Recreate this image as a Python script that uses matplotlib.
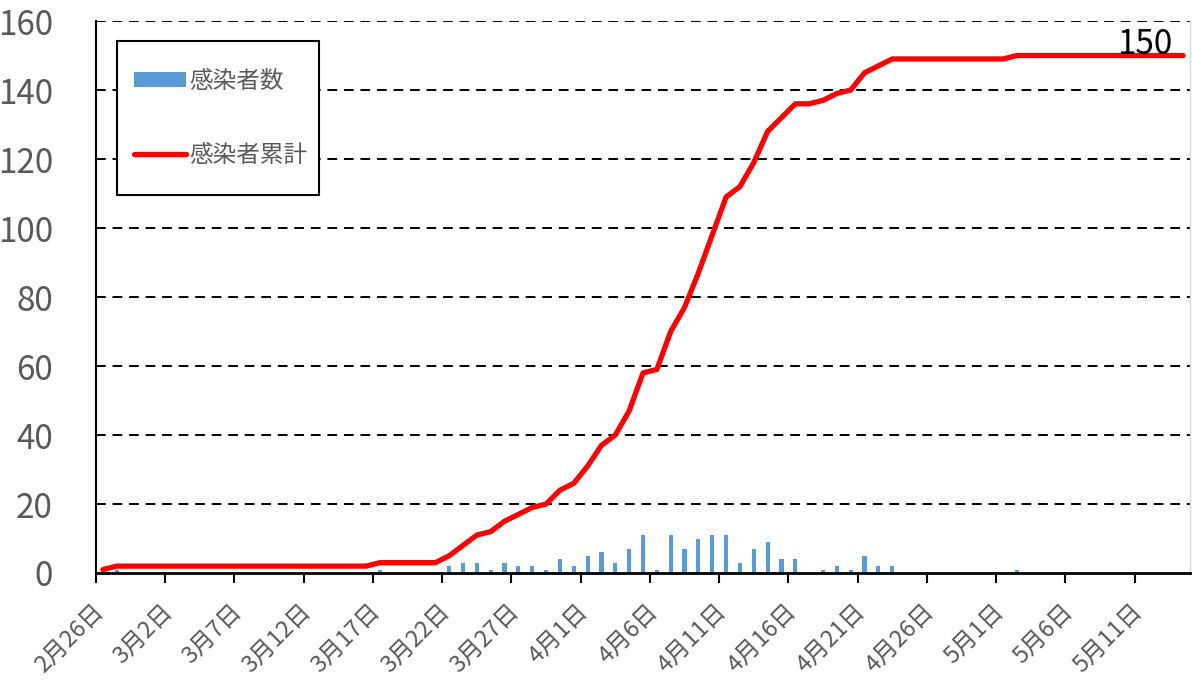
import numpy as np
import matplotlib.pyplot as plt
import matplotlib.transforms as mtransforms
from matplotlib.lines import Line2D
from matplotlib.patches import Patch, Rectangle
import datetime as dt

plt.rcParams['font.family'] = ['Noto Sans CJK JP', 'DejaVu Sans']

# Data (2020-02-26 .. 2020-05-14, one value per day)
start = dt.date(2020, 2, 26)
n_days = 79
daily = [1, 1, 0, 0, 0, 0, 0, 0, 0, 0,
         0, 0, 0, 0, 0, 0, 0, 0, 0, 0,
         1, 0, 0, 0, 0, 2, 3, 3, 1, 3,
         2, 2, 1, 4, 2, 5, 6, 3, 7, 11,
         1, 11, 7, 10, 11, 11, 3, 7, 9, 4,
         4, 0, 1, 2, 1, 5, 2, 2, 0, 0,
         0, 0, 0, 0, 0, 0, 1, 0, 0, 0,
         0, 0, 0, 0, 0, 0, 0, 0, 0]
cumulative = [1, 2, 2, 2, 2, 2, 2, 2, 2, 2,
              2, 2, 2, 2, 2, 2, 2, 2, 2, 2,
              3, 3, 3, 3, 3, 5, 8, 11, 12, 15,
              17, 19, 20, 24, 26, 31, 37, 40, 47, 58,
              59, 70, 77, 87, 98, 109, 112, 119, 128, 132,
              136, 136, 137, 139, 140, 145, 147, 149, 149, 149,
              149, 149, 149, 149, 149, 149, 150, 150, 150, 150,
              150, 150, 150, 150, 150, 150, 150, 150, 150]
dates = [start + dt.timedelta(days=i) for i in range(n_days)]
tick_idx = list(range(0, n_days, 5))
tick_labels = [f"{dates[i].month}月{dates[i].day}日" for i in tick_idx]

gray = '#595959'
blue = '#5B9BD5'
W, H = 1192, 682

fig = plt.figure(figsize=(W / 100, H / 100), dpi=100)
ax = fig.add_axes([96 / W, 1 - 573 / H, (1190 - 96) / W, (573 - 21) / H])

x = np.arange(n_days) + 0.5
ax.bar(x, daily, width=0.3, color=blue, zorder=2)
ax.plot(x, cumulative, color='#FF0000', linewidth=3.8, solid_capstyle='round',
        solid_joinstyle='round', zorder=3)

ax.set_xlim(0, n_days)
ax.set_ylim(0, 160)
ax.set_yticks(np.arange(0, 161, 20))
for yv in range(20, 161, 20):
    ax.axhline(yv, color='black', linewidth=1.4, linestyle=(0, (5, 3.5)), zorder=1)

ax.set_xticks(tick_idx)
ax.set_xticklabels(tick_labels, rotation=45, ha='right', va='center',
                   rotation_mode='anchor', fontsize=17, color=gray)
ax.tick_params(axis='x', direction='out', length=7, width=1.5, color='black', pad=0)
shift = mtransforms.ScaledTranslation(4 / 100, -25 / 100, fig.dpi_scale_trans)
for lab in ax.get_xticklabels():
    lab.set_transform(lab.get_transform() + shift)
ax.tick_params(axis='y', length=0, labelsize=24, labelcolor=gray, pad=31)

ax.spines['top'].set_visible(False)
ax.spines['right'].set_color('#D9D9D9')
ax.spines['right'].set_linewidth(1)
ax.spines['bottom'].set_linewidth(2)
ax.spines['left'].set_linewidth(1.5)

ax.annotate(str(cumulative[-1]), xy=(x[-1], cumulative[-1]), xytext=(-8, 1),
            textcoords='offset points', ha='right', va='baseline',
            fontsize=24, color='black')

# legend with a hand-drawn frame
ax.add_patch(Rectangle((117 / W, 1 - 195 / H), (319 - 117) / W, (195 - 41) / H,
                       transform=fig.transFigure, facecolor='white',
                       edgecolor='black', linewidth=1.5, zorder=4, clip_on=False))
handles = [Patch(facecolor=blue, edgecolor='none'),
           Line2D([0], [0], color='#FF0000', linewidth=3.8, solid_capstyle='round')]
leg = ax.legend(handles, ['感染者数', '感染者累計'], loc='center left',
                bbox_to_anchor=(134 / W, 1 - 118.5 / H), bbox_transform=fig.transFigure,
                fontsize=17, labelcolor=gray, frameon=False, borderpad=0,
                labelspacing=2.15, handlelength=2.2, handleheight=0.6,
                handletextpad=0.15, borderaxespad=0)
leg.set_zorder(5)

fig.savefig('out.png', dpi=100)
